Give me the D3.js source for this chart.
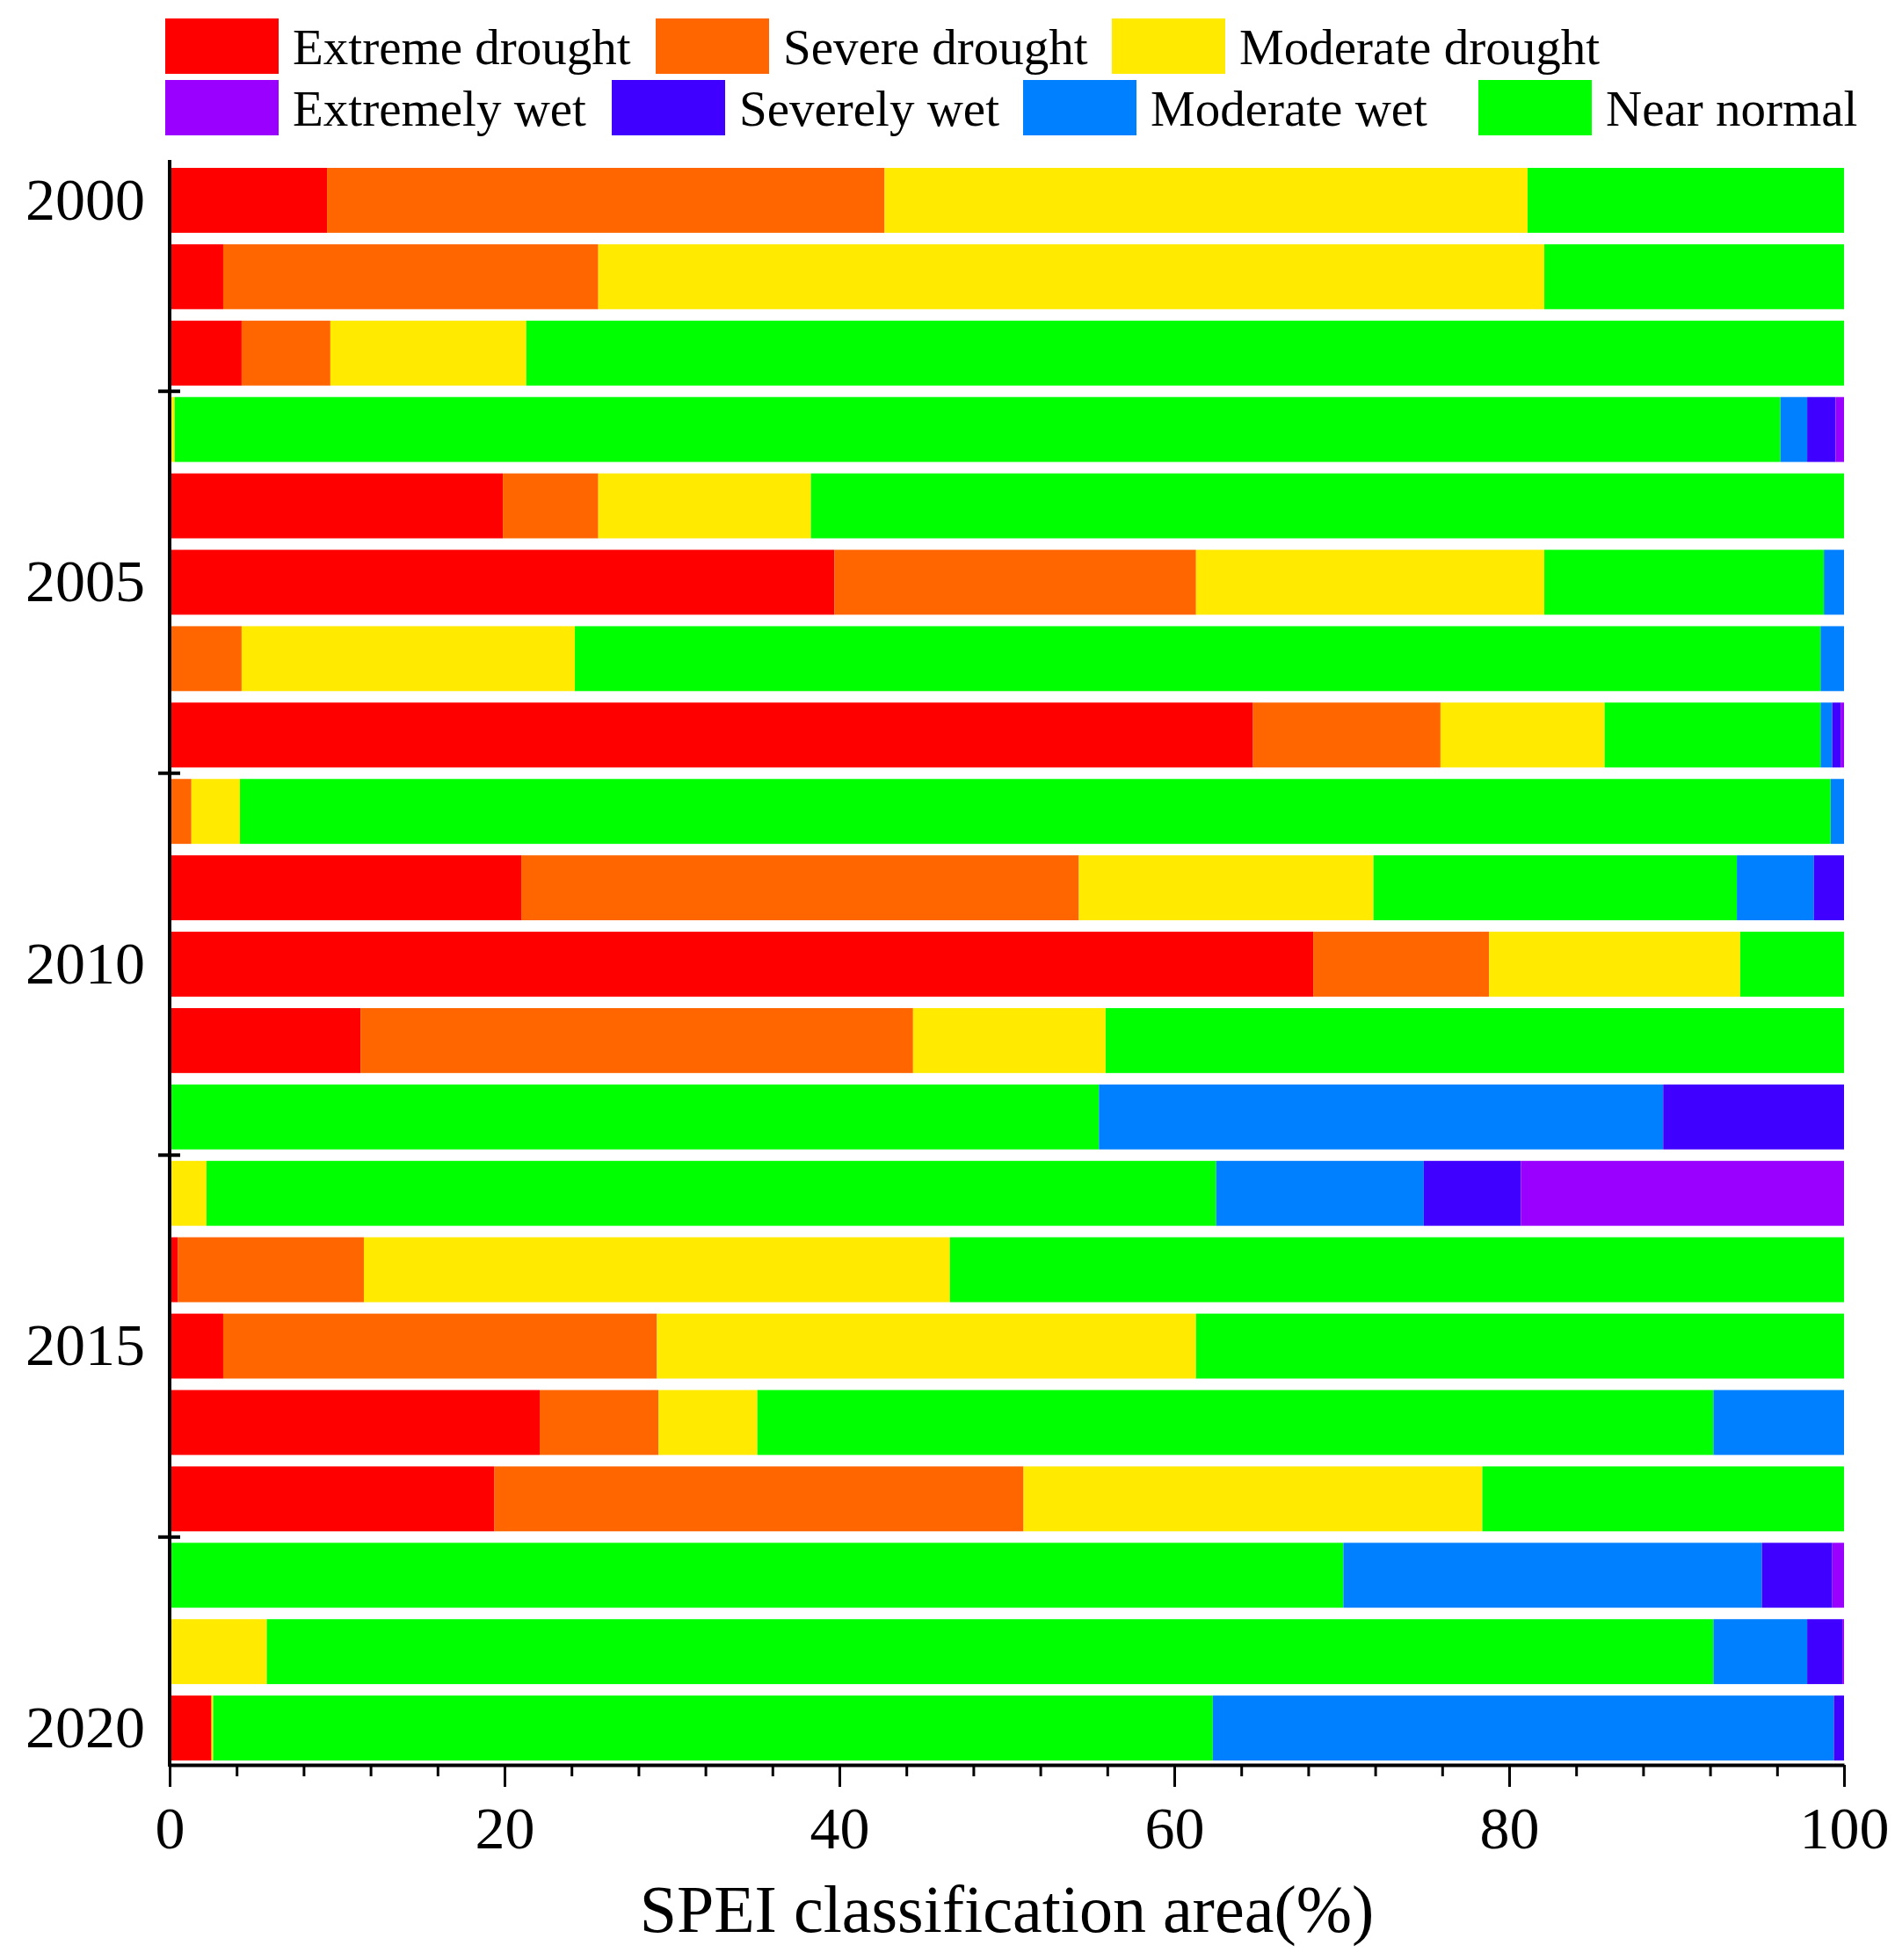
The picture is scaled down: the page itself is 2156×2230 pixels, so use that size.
<!DOCTYPE html>
<html>
<head>
<meta charset="utf-8">
<script src="https://cdn.jsdelivr.net/npm/d3@7"></script>
<style>
  body { margin: 0; background: #fff; }
  text { font-family: "Liberation Serif", "Times New Roman", serif; fill: #000; }
</style>
</head>
<body>
<svg id="chart" width="2156" height="2230"></svg>
<script>
// years (one bar each) and y tick labels
const years = d3.range(2000, 2021);
const yearLabels = [2000, 2005, 2010, 2015, 2020];
const xTicks = [0, 20, 40, 60, 80, 100];

// stacking order, left to right in each bar
const classes = ["Extreme drought", "Severe drought", "Moderate drought", "Near normal",
                 "Moderate wet", "Severely wet", "Extremely wet"];
const classColors = ["#ff0000", "#ff6600", "#ffea00", "#00ff00", "#0080ff", "#4000ff", "#9900ff"];
// legend order
const legendRows = [
  ["Extreme drought", "Severe drought", "Moderate drought"],
  ["Extremely wet", "Severely wet", "Moderate wet", "Near normal"]
];

// area share (%) of each class, 2000..2020
const extremeDrought  = [9.4, 3.2, 4.3, 0, 19.9, 39.7, 0, 64.7, 0, 21.0, 68.3, 11.4, 0, 0, 0.5, 3.2, 22.1, 19.4, 0, 0, 2.5];
const severeDrought   = [33.3, 22.4, 5.3, 0, 5.7, 21.6, 4.3, 11.2, 1.3, 33.3, 10.5, 33.0, 0, 0, 11.1, 25.9, 7.1, 31.6, 0, 0, 0];
const moderateDrought = [38.4, 56.5, 11.7, 0.3, 12.7, 20.8, 19.9, 9.8, 2.9, 17.6, 15.0, 11.5, 0, 2.2, 35.0, 32.2, 5.9, 27.4, 0, 5.8, 0.1];
const nearNormal      = [18.9, 17.9, 78.7, 95.9, 61.7, 16.7, 74.4, 12.9, 95.0, 21.7, 6.2, 44.1, 55.5, 60.3, 53.4, 38.7, 57.1, 21.6, 70.1, 86.4, 59.7];
const moderateWet     = [0, 0, 0, 1.6, 0, 1.2, 1.4, 0.7, 0.8, 4.6, 0, 0, 33.7, 12.4, 0, 0, 7.8, 0, 25.0, 5.6, 37.1];
const severelyWet     = [0, 0, 0, 1.7, 0, 0, 0, 0.5, 0, 1.8, 0, 0, 10.8, 5.8, 0, 0, 0, 0, 4.2, 2.1, 0.6];
const extremelyWet    = [0, 0, 0, 0.5, 0, 0, 0, 0.2, 0, 0, 0, 0, 0, 19.3, 0, 0, 0, 0, 0.7, 0.1, 0];

const series = [extremeDrought, severeDrought, moderateDrought, nearNormal, moderateWet, severelyWet, extremelyWet];

// rows for d3.stack
const rows = years.map((yr, i) => {
  const r = { year: yr };
  classes.forEach((c, k) => { r[c] = series[k][i]; });
  return r;
});

const svg = d3.select("#chart");
const plotLeft = 193, plotRight = 2098, barsTop = 191, barsBottom = 2003, axisY = 2008, axisTop = 182;

const x = d3.scaleLinear().domain([0, 100]).range([plotLeft, plotRight]);
const y = d3.scaleBand().domain(years).range([barsTop, barsBottom]).paddingInner(0.15).paddingOuter(0);
const color = d3.scaleOrdinal().domain(classes).range(classColors);

// stacked bars
const stacked = d3.stack().keys(classes)(rows);
svg.append("g").selectAll("g").data(stacked)
  .enter().append("g")
  .attr("fill", d => color(d.key))
  .selectAll("rect").data(d => d)
  .enter().append("rect")
  .attr("x", d => x(d[0]))
  .attr("y", d => y(d.data.year))
  .attr("width", d => Math.max(0, x(d[1]) - x(d[0])))
  .attr("height", y.bandwidth());

// x axis: minor ticks every 4, major every 20
svg.append("g")
  .attr("transform", `translate(0,${axisY})`)
  .call(d3.axisBottom(x).tickValues(d3.range(0, 101, 4)).tickSize(13).tickSizeOuter(0).tickFormat(""))
  .call(g => g.select(".domain").remove())
  .selectAll("line").attr("stroke-width", 3);

const xAxis = svg.append("g")
  .attr("transform", `translate(0,${axisY})`)
  .call(d3.axisBottom(x).tickValues(xTicks).tickSize(25).tickSizeOuter(0).tickPadding(22));
xAxis.attr("font-family", null);
xAxis.select(".domain").attr("stroke-width", 4);
xAxis.selectAll("line").attr("stroke-width", 3);
xAxis.selectAll("text").style("font-size", "68px");

// y axis: labels every 5 years, ticks between groups
const yAxis = svg.append("g")
  .attr("transform", `translate(${plotLeft},0)`)
  .call(d3.axisLeft(y).tickValues(yearLabels).tickSize(0).tickPadding(28));
yAxis.attr("font-family", null);
yAxis.select(".domain").remove();
yAxis.selectAll("text").style("font-size", "68px");

svg.append("line")
  .attr("x1", plotLeft).attr("x2", plotLeft)
  .attr("y1", axisTop).attr("y2", axisY + 2)
  .attr("stroke", "#000").attr("stroke-width", 4);

const between = [2003, 2008, 2013, 2018].map(v => y(v) - y.step() * y.paddingInner() / 2);
svg.append("g").selectAll("line").data(between)
  .enter().append("line")
  .attr("x1", plotLeft - 13).attr("x2", plotLeft + 12)
  .attr("y1", d => d).attr("y2", d => d)
  .attr("stroke", "#000").attr("stroke-width", 4);

// axis title
svg.append("text")
  .attr("x", (plotLeft + plotRight) / 2)
  .attr("y", 2198)
  .attr("text-anchor", "middle")
  .style("font-size", "76px")
  .text("SPEI classification area(%)");

// legend: swatch left edges per row (the reference spacing is not uniform)
const swW = 129, swH = 63;
const rowTops = [21, 91];
const legendX = [[188, 746, 1265], [188, 696, 1164, 1682]];
legendRows.forEach((row, r) => {
  row.forEach((name, k) => {
    const lx = legendX[r][k];
    svg.append("rect")
      .attr("x", lx).attr("y", rowTops[r])
      .attr("width", swW).attr("height", swH)
      .attr("fill", color(name));
    svg.append("text")
      .attr("x", lx + swW + 16)
      .attr("y", rowTops[r] + swH / 2 + 20)
      .style("font-size", "57px")
      .text(name);
  });
});
</script>
</body>
</html>
